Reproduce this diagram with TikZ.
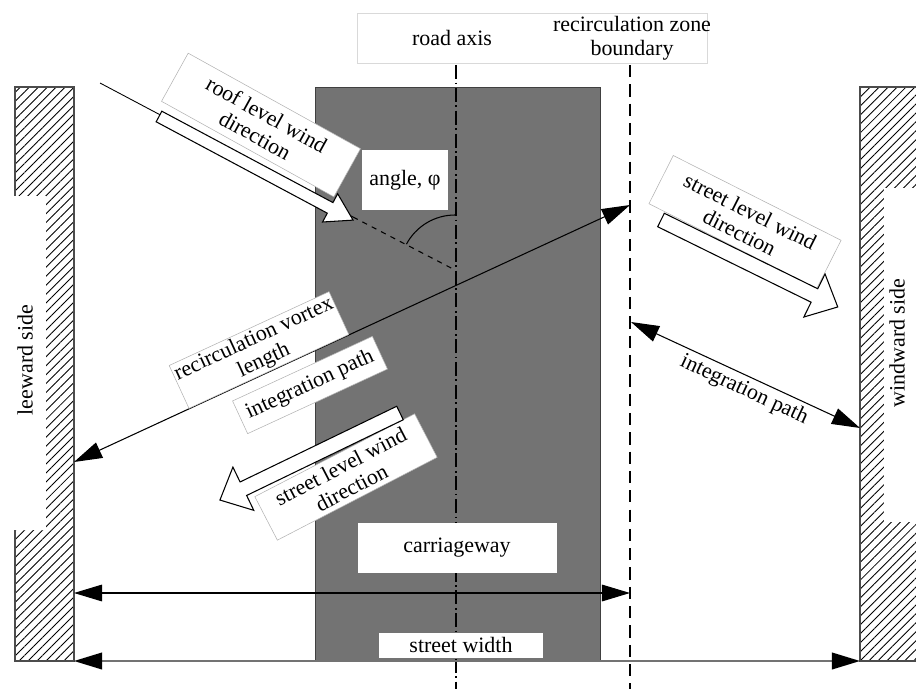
\documentclass[tikz,border=0pt]{standalone}
\usepackage{fontspec}
\setmainfont{Liberation Serif}
\usetikzlibrary{arrows.meta,patterns.meta}

\newcommand\pxu{0.02cm}
% hollow block arrow: tail, angle, length, shaft half width, head half width, head length
\newcommand\blockarrow[6]{%
  \begin{scope}[shift={#1},rotate=#2]
    \draw[fill=white,line width=0.6pt]
      (0,-#4) -- ({#3-#6},-#4) -- ({#3-#6},-#5) -- (#3,0)
      -- ({#3-#6},#5) -- ({#3-#6},#4) -- (0,#4) -- cycle;
  \end{scope}}

\begin{document}
\begin{tikzpicture}[x=\pxu, y=-\pxu,
    font=\fontsize{12.5}{13.5}\selectfont,
    tag/.style={fill=white, draw=black!30, line width=0.3pt, align=center, inner sep=1pt},
    blank/.style={fill=white, inner sep=0pt},
    wall/.style={pattern={Lines[angle=45,distance=3.6pt,line width=0.5pt]}},
    dimline/.style={{Triangle[length=16pt,width=9.5pt,color=black]}-{Triangle[length=16pt,width=9.5pt,color=black]}, line width=0.6pt}
]
\useasboundingbox (0,0) rectangle (916,689);

% walls
\path[wall] (15,87) rectangle (74,661);
\draw[black!70, line width=0.8pt] (15,87) rectangle (74,661);
\path[wall] (860,87) rectangle (916,661);
\draw[black!70, line width=0.8pt] (916,87) -- (860,87) -- (860,661) -- (916,661);
\node[blank, minimum width=34*\pxu, minimum height=333*\pxu] (leebox) at (29,363) {};
\node[rotate=90] (leeward) at (25,360) {leeward side};
\node[blank, minimum width=33*\pxu, minimum height=334*\pxu] (windbox) at (900,355) {};
\node[rotate=90] (windward) at (897,343) {windward side};

% road
\node[fill=black!55, draw=black!75, minimum width=285*\pxu, minimum height=574*\pxu, inner sep=0pt] (road) at (457.5,374) {};

% top labels
\node[blank, draw=black!15, minimum width=350*\pxu, minimum height=50*\pxu] (topbox) at (532,38) {};
\node (axislbl) at (452,38) {road axis};
\node[align=center] (zonelbl) at (632,38) {recirculation zone\\boundary};

% road axis and zone boundary
\coordinate (axistop) at (456,65);
\coordinate (axisbot) at (456,689);
\coordinate (zonetop) at (630,65);
\coordinate (zonebot) at (630,689);
\draw[line width=0.8pt, dash pattern=on 8pt off 2pt on 1pt off 2pt] (axistop) -- (axisbot);
\draw[line width=0.7pt, dash pattern=on 7pt off 4pt] (zonetop) -- (zonebot);

% roof level wind
\coordinate (roofsrc) at (100,83);
\coordinate (rooftip) at (353,217);
\coordinate (roofhit) at (455,270);
\draw[line width=0.5pt] (roofsrc) -- (rooftip);
\draw[line width=0.6pt, dashed] (rooftip) -- (roofhit);
\draw[line width=0.6pt] (roofhit) ++(208:55) arc[start angle=208, end angle=270, radius=55];
\node[tag, rotate=-29, minimum width=197*\pxu, minimum height=55*\pxu] (rooflbl) at (261,125) {roof level wind\\direction};
\blockarrow{(159,116.5)}{-28.1}{220}{6}{16}{26}
\node[blank, minimum width=86*\pxu, minimum height=60*\pxu] (anglelbl) at (405,180) {angle, φ};

% recirculation vortex length
\coordinate (leeA) at (74,462);
\coordinate (zoneA) at (630,205);
\draw[dimline] (leeA) -- (zoneA);
\node[tag, rotate=24.8, minimum width=160*\pxu, minimum height=40*\pxu] (vortexlbl) at (259,350) {recirculation vortex\\length};
\node[tag, rotate=24.8, minimum width=154*\pxu, minimum height=36*\pxu] (intlbl) at (310,385) {integration path};

% street level wind
\node[tag, rotate=27.4, minimum width=180*\pxu, minimum height=49*\pxu] (streetlbl) at (346,477) {street level wind\\direction};
\blockarrow{(400,413)}{205.8}{200}{7.5}{24}{26}
\node[tag, rotate=-26.8, minimum width=188*\pxu, minimum height=54*\pxu] (streetlblb) at (745,222) {street level wind\\direction};
\blockarrow{(661,220)}{-26.2}{197}{7.5}{24}{26}

% integration path, windward
\coordinate (zoneB) at (631,322);
\coordinate (windB) at (860,428);
\draw[dimline] (zoneB) -- (windB);
\node[rotate=-25] (intlblb) at (744,390) {integration path};

% carriageway and widths
\node[blank, minimum width=199*\pxu, minimum height=50*\pxu] (carriage) at (457,548) {carriageway};
\coordinate (leeC) at (74,593);
\coordinate (zoneC) at (630,593);
\draw[dimline] (leeC) -- (zoneC);
\node[blank, minimum width=164*\pxu, minimum height=25*\pxu] (widthlbl) at (461,645) {street width};
\coordinate (leeD) at (74,661);
\coordinate (windD) at (860,661);
\draw[dimline, draw=black!55, line width=1pt] (leeD) -- (windD);

\end{tikzpicture}
\end{document}
